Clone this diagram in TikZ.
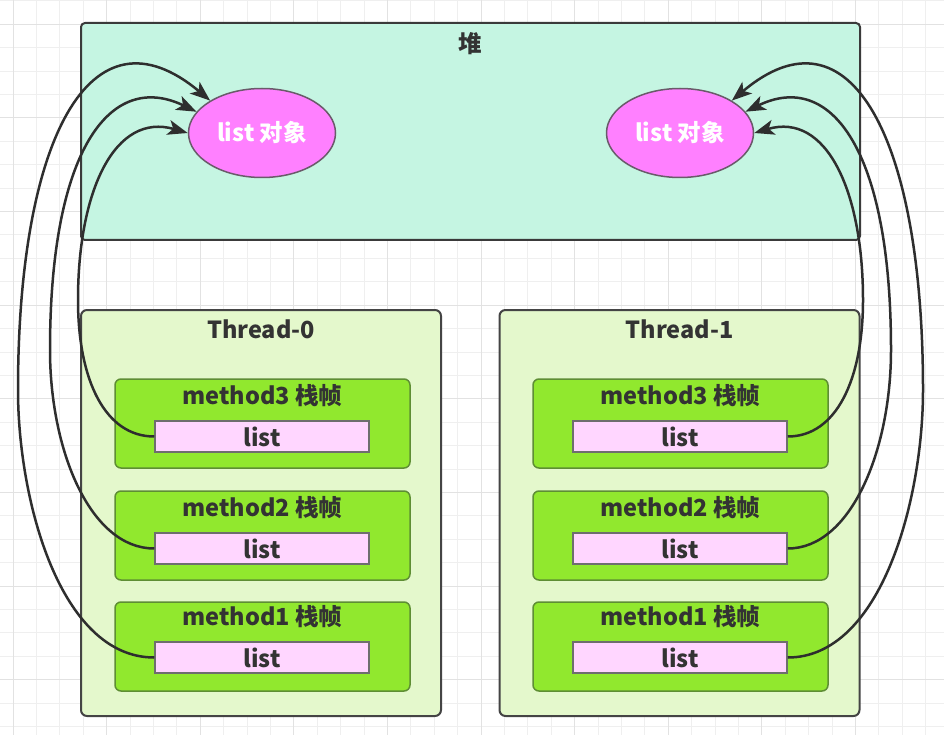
\documentclass[tikz,border=0pt]{standalone}
\usepackage{fontspec}
\setmainfont{Noto Sans CJK SC}
\usetikzlibrary{arrows.meta,shapes.geometric}
\definecolor{heapfill}{HTML}{C5F5E2}
\definecolor{heapline}{HTML}{3A3A3A}
\definecolor{ellfill}{HTML}{FF80FF}
\definecolor{ellline}{HTML}{6A5A6A}
\definecolor{thrfill}{HTML}{E4F8CC}
\definecolor{thrline}{HTML}{444444}
\definecolor{methfill}{HTML}{91E82E}
\definecolor{methline}{HTML}{5E8E34}
\definecolor{listfill}{HTML}{FFD6FF}
\definecolor{listline}{HTML}{6E6E6E}
\definecolor{txt}{HTML}{333333}
\definecolor{conn}{HTML}{2E2E2E}
\definecolor{gridminor}{HTML}{EFEFEF}
\definecolor{gridmajor}{HTML}{E2E2E2}
\begin{document}
\begin{tikzpicture}[x=1pt,y=-1pt,
  heapbox/.style={draw=heapline,line width=2pt,fill=heapfill,rounded corners=4pt,rectangle,inner sep=0pt,minimum width=779pt,minimum height=217pt},
  thrbox/.style={draw=thrline,line width=2pt,fill=thrfill,rounded corners=6pt,rectangle,inner sep=0pt,minimum width=360pt,minimum height=406pt},
  methbox/.style={draw=methline,line width=1.5pt,fill=methfill,rounded corners=6pt,rectangle,inner sep=0pt,minimum width=295pt,minimum height=89pt},
  listbox/.style={draw=listline,line width=1.5pt,fill=listfill,rectangle,inner sep=0pt,minimum width=214pt,minimum height=31pt,text=txt,font=\fontsize{23.5pt}{26pt}\selectfont\bfseries},
  obj/.style={draw=ellline,line width=1.5pt,fill=ellfill,ellipse,inner sep=0pt,minimum width=147pt,minimum height=89pt,text=white,font=\fontsize{23.5pt}{26pt}\selectfont\bfseries},
  lbl/.style={inner sep=0pt,text=txt,font=\fontsize{23.5pt}{26pt}\selectfont\bfseries},
  ref/.style={draw=conn,line width=2.5pt,-{Stealth[length=20pt,width=15pt,inset=5pt]}}
]
\useasboundingbox (0,0) rectangle (944,735);
\fill[white] (0,0) rectangle (944,735);
% background grid
\foreach \i in {0,...,40}{
  \draw[gridminor,line width=1pt] ({13+23.4*\i},0) -- ({13+23.4*\i},735);
}
\foreach \i in {0,...,31}{
  \draw[gridminor,line width=1pt] (0,{1+23.4*\i}) -- (944,{1+23.4*\i});
}
\foreach \i in {0,...,10}{
  \draw[gridmajor,line width=1pt] ({13+93.6*\i},0) -- ({13+93.6*\i},735);
}
\foreach \i in {0,...,8}{
  \draw[gridmajor,line width=1pt] (0,{24.4+93.6*\i}) -- (944,{24.4+93.6*\i});
}

% heap
\node[heapbox] (heap) at (470.5,131.5) {};
\node[lbl] (heaplbl) at (470.5,44) {堆};
\node[obj] (e1) at (262,133) {list 对象};
\node[obj] (e2) at (680,133) {list 对象};

% threads
\node[thrbox] (t0) at (261,513) {};
\node[lbl] (t0lbl) at (261,329) {Thread-0};
\node[thrbox] (t1) at (679.5,513) {};
\node[lbl] (t1lbl) at (679.5,329) {Thread-1};

% thread 0 frames
\node[methbox] (m03) at (262.5,423.5) {};
\node[lbl] (m03lbl) at (262.5,396) {method3 栈帧};
\node[listbox] (l03) at (262,436.5) {list};
\node[methbox] (m02) at (262.5,535.5) {};
\node[lbl] (m02lbl) at (262.5,508) {method2 栈帧};
\node[listbox] (l02) at (262,548.5) {list};
\node[methbox] (m01) at (262.5,646.5) {};
\node[lbl] (m01lbl) at (262.5,617) {method1 栈帧};
\node[listbox] (l01) at (262,657.5) {list};

% thread 1 frames
\node[methbox] (n03) at (680.5,423.5) {};
\node[lbl] (n03lbl) at (680.5,396) {method3 栈帧};
\node[listbox] (r03) at (680,436.5) {list};
\node[methbox] (n02) at (680.5,535.5) {};
\node[lbl] (n02lbl) at (680.5,508) {method2 栈帧};
\node[listbox] (r02) at (680,548.5) {list};
\node[methbox] (n01) at (680.5,646.5) {};
\node[lbl] (n01lbl) at (680.5,617) {method1 栈帧};
\node[listbox] (r01) at (680,657.5) {list};

% waypoints
\coordinate (w03) at (78,300);
\coordinate (w02) at (50,350);
\coordinate (w01) at (18,390);
\coordinate (v03) at (863,300);
\coordinate (v02) at (891,350);
\coordinate (v01) at (923,390);

% references, left
\draw[ref] (l03.west) .. controls (105,436.5) and (78,380) .. (w03) .. controls (78,190) and (115,112) .. (e1.180);
\draw[ref] (l02.west) .. controls (90,548.5) and (50,450) .. (w02) .. controls (50,150) and (110,70) .. (e1.162);
\draw[ref] (l01.west) .. controls (60,657.5) and (18,500) .. (w01) .. controls (18,140) and (90,0) .. (e1.148);
% references, right
\draw[ref] (r03.east) .. controls (836,436.5) and (863,380) .. (v03) .. controls (863,190) and (826,112) .. (e2.0);
\draw[ref] (r02.east) .. controls (851,548.5) and (891,450) .. (v02) .. controls (891,150) and (831,70) .. (e2.18);
\draw[ref] (r01.east) .. controls (881,657.5) and (923,500) .. (v01) .. controls (923,140) and (851,0) .. (e2.32);
\end{tikzpicture}
\end{document}
